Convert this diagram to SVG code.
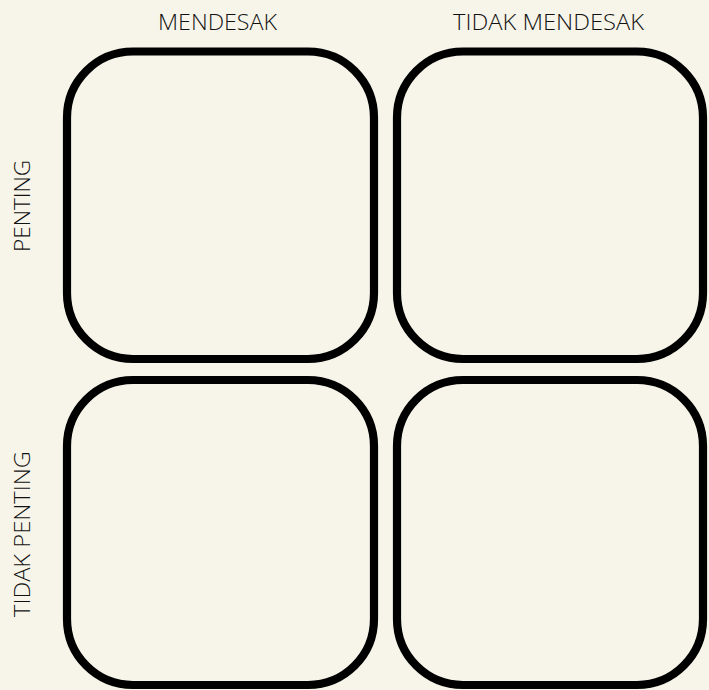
<svg xmlns="http://www.w3.org/2000/svg" width="709" height="690" viewBox="0 0 709 690">
<style>
.box{fill:none;stroke:#000;stroke-width:8.2}
.lbl{font-family:"Open Sans","Liberation Sans",sans-serif;font-weight:300;font-size:22px;fill:#111}
</style>
<rect width="709" height="690" fill="#F7F5EA"/>
<g id="q1"><rect class="box" x="67" y="51.5" width="307" height="307.5" rx="66" ry="66"/></g>
<g id="q2"><rect class="box" x="397" y="51.5" width="306" height="307.5" rx="66" ry="66"/></g>
<g id="q3"><rect class="box" x="67" y="380" width="307" height="305" rx="66" ry="66"/></g>
<g id="q4"><rect class="box" x="397" y="380" width="306" height="305" rx="66" ry="66"/></g>
<g id="labels">
<text class="lbl" x="217.5" y="30" text-anchor="middle" textLength="119" lengthAdjust="spacingAndGlyphs">MENDESAK</text>
<text class="lbl" x="548.5" y="30" text-anchor="middle" textLength="191" lengthAdjust="spacingAndGlyphs">TIDAK MENDESAK</text>
<text class="lbl" transform="translate(30,206) rotate(-90)" text-anchor="middle" textLength="92" lengthAdjust="spacingAndGlyphs">PENTING</text>
<text class="lbl" transform="translate(30,534) rotate(-90)" text-anchor="middle" textLength="166" lengthAdjust="spacingAndGlyphs">TIDAK PENTING</text>
</g>
<g id="connectors"></g>
</svg>
